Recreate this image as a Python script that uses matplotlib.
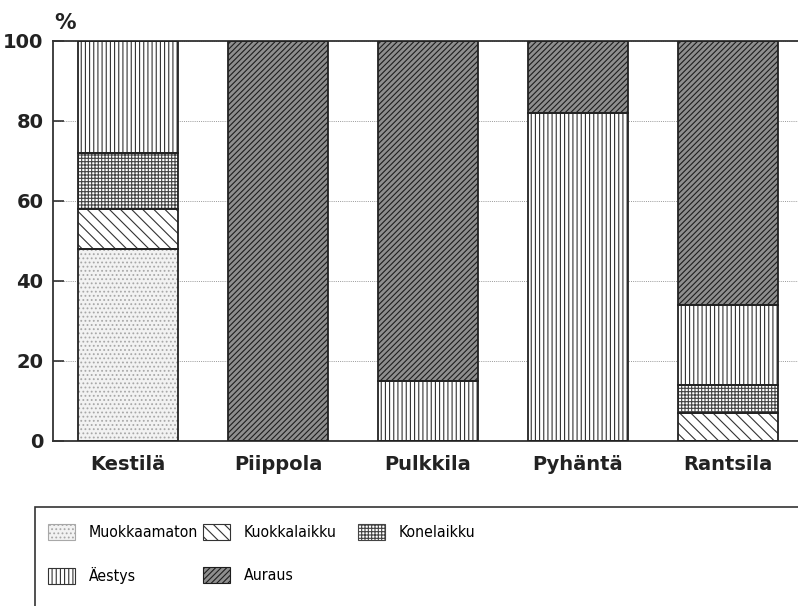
import numpy as np
import matplotlib
matplotlib.use("Agg")
import matplotlib.pyplot as plt
from matplotlib.patches import Patch, Rectangle
from matplotlib import font_manager

plt.rcParams['font.family'] = ['DejaVu Sans']
plt.rcParams['hatch.linewidth'] = 0.8

# data (%)
kunnat = ['Kestilä', 'Piippola', 'Pulkkila', 'Pyhäntä', 'Rantsila']
muokkaamaton = [48, 0, 0, 0, 0]
kuokkalaikku = [10, 0, 0, 0, 7]
konelaikku = [14, 0, 0, 0, 7]
aestys = [28, 0, 15, 82, 20]
auraus = [0, 100, 85, 18, 66]

sarjat = ['Muokkaamaton', 'Kuokkalaikku', 'Konelaikku', 'Äestys', 'Auraus']
arvot = [muokkaamaton, kuokkalaikku, konelaikku, aestys, auraus]
# facecolor, hatch colour, hatch
tyylit = [('#f2f2f2', '#a8a8a8', '....'),
          ('white', '#333333', '\\\\\\'),
          ('white', '#444444', '+++++'),
          ('white', '#333333', '||||'),
          ('#8e8e8e', '#1e1e1e', '//////')]

# narrow font for the legend if one is around
legend_prop = None
for fam, st in [('DejaVu Sans', 'condensed'), ('Liberation Sans Narrow', 'normal')]:
    fp = font_manager.FontProperties(family=fam, stretch=st, size=11.3)
    try:
        path = font_manager.findfont(fp, fallback_to_default=False)
    except Exception:
        continue
    if 'Condensed' in path or 'Narrow' in path:
        legend_prop = fp
        break
if legend_prop is None:
    legend_prop = font_manager.FontProperties(family='Liberation Sans', size=10.5)

fig = plt.figure(figsize=(7.98, 6.06), dpi=100)
ax = fig.add_axes([53/798, 1-441/606, (803-53)/798, 400/606])

x = np.arange(len(kunnat))
pohja = np.zeros(len(kunnat))
for nimi, v, (fc, hc, h) in zip(sarjat, arvot, tyylit):
    v = np.array(v, dtype=float)
    ax.bar(x, v, 0.667, bottom=pohja, color=fc, edgecolor=hc, hatch=h,
           linewidth=0, zorder=2)
    ax.bar(x, v, 0.667, bottom=pohja, fill=False, edgecolor='#222222',
           linewidth=1.3, zorder=3)
    pohja += v

ax.set_xlim(-0.5, 4.5)
ax.set_ylim(0, 100)
ax.set_yticks([0, 20, 40, 60, 80, 100])
ax.set_xticks(x)
ax.set_xticklabels(kunnat, fontsize=14, fontweight='bold', color='#222222')
for t in ax.get_yticklabels():
    t.set_fontsize(14)
    t.set_fontweight('bold')
    t.set_color('#222222')
ax.tick_params(axis='y', direction='in', length=8, width=1.2, pad=7,
               color='#333333')
ax.tick_params(axis='x', length=0, pad=10)
ax.yaxis.grid(True, linestyle=(0, (1, 1.2)), color='#999999', linewidth=0.7)
ax.set_axisbelow(True)
for s in ['left', 'bottom', 'top']:
    ax.spines[s].set_color('#333333')
    ax.spines[s].set_linewidth(1.3)
ax.spines['right'].set_visible(False)

fig.text(54/798, 1-29/606, '%', fontsize=15.5, fontweight='bold', color='#222222')

# legend box
fig.patches.append(Rectangle((35/798, -0.1), 1.0, (606-507)/606 + 0.1,
                             transform=fig.transFigure, fill=False,
                             edgecolor='#333333', linewidth=1.2))
kahvat = [Patch(facecolor=fc, edgecolor=hc, hatch=h, linewidth=0.8)
          for fc, hc, h in tyylit]
# one legend per column so the columns sit where they are in the picture
sarakkeet = [([0, 3], 48), ([1, 4], 203), ([2], 358)]
for idx, xpx in sarakkeet:
    fig.legend([kahvat[i] for i in idx], [sarjat[i] for i in idx],
               loc='upper left', bbox_to_anchor=(xpx/798, 1-524/606),
               frameon=False, prop=legend_prop, borderpad=0, borderaxespad=0,
               handlelength=1.75, handleheight=1.2, handletextpad=0.85,
               labelspacing=1.7)

fig.savefig('out.png', dpi=100)
